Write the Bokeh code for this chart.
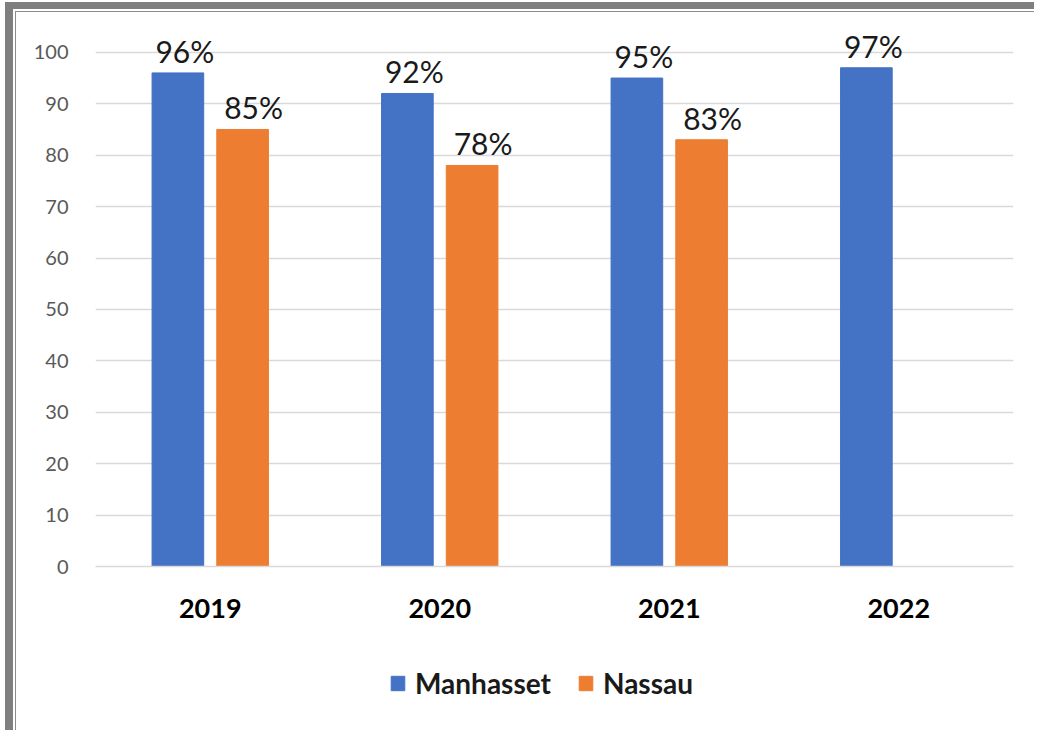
from bokeh.plotting import figure
from bokeh.layouts import column
from bokeh.models import (ColumnDataSource, FactorRange, Range1d, Legend, LegendItem,
                          LabelSet, FixedTicker, InlineStyleSheet)
from bokeh.transform import dodge
from bokeh.core.properties import value
from bokeh.embed import file_html
from bokeh.resources import INLINE

# ---- data ----
years = ["2019", "2020", "2021", "2022"]
manhasset = [96, 92, 95, 97]
nassau = [85, 78, 83, None]
series_names = ["Manhasset", "Nassau"]
y_ticks = [0, 10, 20, 30, 40, 50, 60, 70, 80, 90, 100]

BLUE = "#4472C4"
ORANGE = "#ED7D31"
FONT = "Lato"
W = 1034
H_MAIN, H_LEG = 640, 90

src_m = ColumnDataSource(dict(year=years, val=manhasset,
                              label=[f"{v}%" for v in manhasset]))
ny = [y for y, v in zip(years, nassau) if v is not None]
nv = [v for v in nassau if v is not None]
src_n = ColumnDataSource(dict(year=ny, val=nv, label=[f"{v}%" for v in nv]))

xr = FactorRange(factors=years, range_padding=0)
p = figure(width=W, height=H_MAIN, output_backend="svg", toolbar_location=None,
           x_range=xr, y_range=Range1d(0, 106),
           min_border_left=95, min_border_right=21, min_border_top=21,
           min_border_bottom=H_MAIN - 566)
p.outline_line_color = None
p.background_fill_color = "white"
p.border_fill_color = "white"

# grid
p.xgrid.grid_line_color = None
p.ygrid.grid_line_color = "#D9D9D9"
p.ygrid.grid_line_width = 1.5
p.ygrid.ticker = FixedTicker(ticks=y_ticks)

# axes
p.yaxis.ticker = FixedTicker(ticks=y_ticks)
p.yaxis.axis_line_color = None
p.yaxis.major_tick_line_color = None
p.yaxis.minor_tick_line_color = None
p.yaxis.major_label_text_font = FONT
p.yaxis.major_label_text_font_size = "20px"
p.yaxis.major_label_text_color = "#595959"
p.yaxis.major_label_standoff = 21

p.xaxis.axis_line_color = "#D9D9D9"
p.xaxis.axis_line_width = 1.5
p.xaxis.major_tick_line_color = None
p.xaxis.minor_tick_line_color = None
p.xaxis.major_label_text_font = FONT
p.xaxis.major_label_text_font_size = "27px"
p.xaxis.major_label_text_font_style = "bold"
p.xaxis.major_label_text_color = "#000000"
p.xaxis.major_label_standoff = 26

# bars
OFF = 0.141
BW = 0.225
bar_m = dict(x=dodge("year", -OFF, range=xr), top="val", width=BW, bottom=0,
             source=src_m, fill_color=BLUE, line_color=BLUE)
bar_n = dict(x=dodge("year", OFF, range=xr), top="val", width=BW, bottom=0,
             source=src_n, fill_color=ORANGE, line_color=ORANGE)
p.vbar(**bar_m)
p.vbar(**bar_n)

# data labels
for src, off, xo in ((src_m, -OFF, 7), (src_n, OFF, 11)):
    p.add_layout(LabelSet(x=dodge("year", off, range=xr), y="val", text="label",
                          source=src, x_offset=xo, y_offset=10, text_align="center",
                          text_baseline="alphabetic", text_font=value(FONT),
                          text_font_size="30px", text_color="#1A1A1A"))

# legend strip: a small figure whose (out-of-view) bars only supply legend swatches
p2 = figure(width=W, height=H_LEG, output_backend="svg", toolbar_location=None,
            x_axis_type=None, y_axis_type=None, min_border=0,
            min_border_left=95, min_border_right=21,
            x_range=xr, y_range=Range1d(1000, 1001))
p2.outline_line_color = None
p2.background_fill_color = "white"
p2.border_fill_color = "white"
lm = p2.vbar(**bar_m)
ln = p2.vbar(**bar_n)
legend = Legend(items=[LegendItem(label=series_names[0], renderers=[lm], index=0),
                       LegendItem(label=series_names[1], renderers=[ln], index=0)],
                location=(389 - 95, 30), orientation="horizontal",
                glyph_width=17, glyph_height=18, label_standoff=9, spacing=26,
                padding=0, margin=0, border_line_color=None,
                background_fill_alpha=0,
                label_text_font=FONT, label_text_font_size="28px",
                label_text_font_style="bold", label_text_color="#1A1A1A")
p2.add_layout(legend, "center")

layout = column(p, p2, spacing=0)

# outer frame of the picture (drawn with CSS over the canvas)
css = """
:host { position: relative; }
:host::before {
  content: ""; position: absolute; z-index: 50; pointer-events: none;
  left: 5px; top: 2px; right: 0; bottom: 0;
  border-left: 8px solid #7F7F7F; border-top: 7px solid #7F7F7F;
}
:host::after {
  content: ""; position: absolute; z-index: 51; pointer-events: none;
  left: 15px; top: 11px; right: 0; bottom: 0;
  border-left: 1.5px solid #8C8C8C; border-top: 1.5px solid #8C8C8C;
}
"""
layout.stylesheets = [InlineStyleSheet(css=css)]

open("out.html", "w").write(file_html(layout, INLINE))
